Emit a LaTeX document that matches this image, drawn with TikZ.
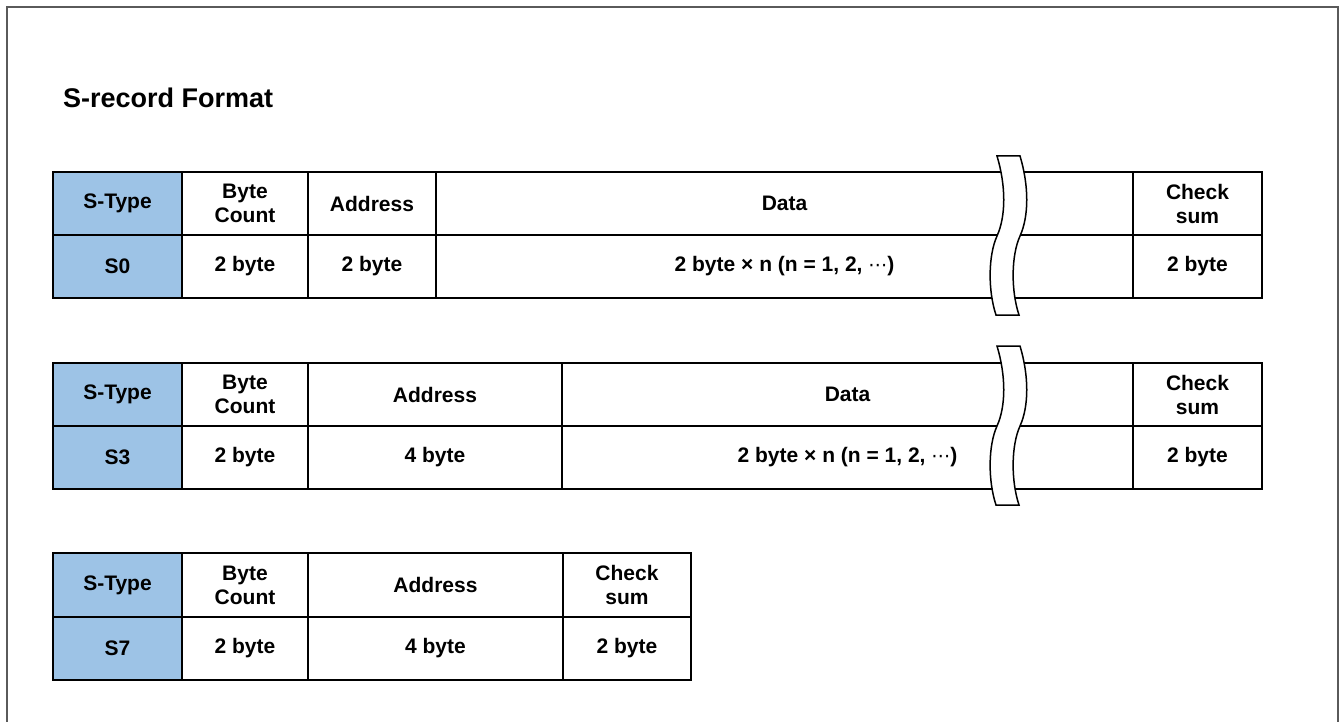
\documentclass[tikz,border=0pt]{standalone}
\usepackage{fontspec}
\setmainfont{Liberation Sans}
\newfontfamily\symfont{DejaVu Sans}
\definecolor{typeblue}{RGB}{157,195,230}
\definecolor{framegray}{RGB}{90,90,90}
\newcommand\cellbox[7]{%
  \node[cell,#6,minimum width={(#3-#2)*1pt},minimum height={(#5-#4)*1pt}]
    (#1) at ({(#2+#3)/2},{(#4+#5)/2}) {#7};}
\newcommand\midellipsis{{\symfont\mdseries\fontsize{19}{24}\selectfont ⋯}}
\begin{document}
\begin{tikzpicture}[x=1pt,y=-1pt,
  cell/.style={draw=black,line width=2.5pt,fill=white,inner sep=0pt,align=center,
    font=\fontsize{21}{24}\selectfont\bfseries},
  typecell/.style={fill=typeblue},
  breakband/.style={draw=black,line width=1.5pt,fill=white}]
\useasboundingbox (0,0) rectangle (1340,722);
% outer frame
\draw[framegray,line width=2pt] (7,740) -- (7,7) -- (1338,7) -- (1338,740);
% title
\node[anchor=base west,inner sep=0pt,font=\fontsize{27}{30}\selectfont\bfseries] (title) at (63,108) {S-record Format};

% S0 record
\cellbox{aT}{53}{182}{172}{235}{typecell}{S-Type}
\cellbox{aB}{182}{308}{172}{235}{}{Byte\\Count}
\cellbox{aA}{308}{436}{172}{235}{}{Address}
\cellbox{aD}{436}{1133}{172}{235}{}{Data}
\cellbox{aC}{1133}{1262}{172}{235}{}{Check\\sum}
\cellbox{bT}{53}{182}{235}{298}{typecell}{S0}
\cellbox{bB}{182}{308}{235}{298}{}{2 byte}
\cellbox{bA}{308}{436}{235}{298}{}{2 byte}
\cellbox{bD}{436}{1133}{235}{298}{}{2 byte × n (n = 1, 2, \midellipsis)}
\cellbox{bC}{1133}{1262}{235}{298}{}{2 byte}

% S3 record
\cellbox{cT}{53}{182}{363}{426}{typecell}{S-Type}
\cellbox{cB}{182}{308}{363}{426}{}{Byte\\Count}
\cellbox{cA}{308}{562}{363}{426}{}{Address}
\cellbox{cD}{562}{1133}{363}{426}{}{Data}
\cellbox{cC}{1133}{1262}{363}{426}{}{Check\\sum}
\cellbox{dT}{53}{182}{426}{489}{typecell}{S3}
\cellbox{dB}{182}{308}{426}{489}{}{2 byte}
\cellbox{dA}{308}{562}{426}{489}{}{4 byte}
\cellbox{dD}{562}{1133}{426}{489}{}{2 byte × n (n = 1, 2, \midellipsis)}
\cellbox{dC}{1133}{1262}{426}{489}{}{2 byte}

% S7 record
\cellbox{eT}{53}{182}{553}{617}{typecell}{S-Type}
\cellbox{eB}{182}{308}{553}{617}{}{Byte\\Count}
\cellbox{eA}{308}{563}{553}{617}{}{Address}
\cellbox{eC}{563}{691}{553}{617}{}{Check\\sum}
\cellbox{fT}{53}{182}{617}{680}{typecell}{S7}
\cellbox{fB}{182}{308}{617}{680}{}{2 byte}
\cellbox{fA}{308}{563}{617}{680}{}{4 byte}
\cellbox{fC}{563}{691}{617}{680}{}{2 byte}

% wavy break bands across the data fields
\foreach \y in {156,346}{
  \draw[breakband] (997,\y) .. controls (1006,\y+30) and (1006,\y+60) .. (997,\y+80)
    .. controls (988,\y+100) and (988,\y+135) .. (996,\y+159)
    -- (1019,\y+159) .. controls (1011,\y+135) and (1011,\y+100) .. (1020,\y+80)
    .. controls (1029,\y+60) and (1029,\y+30) .. (1020,\y) -- cycle;
}
\end{tikzpicture}
\end{document}
